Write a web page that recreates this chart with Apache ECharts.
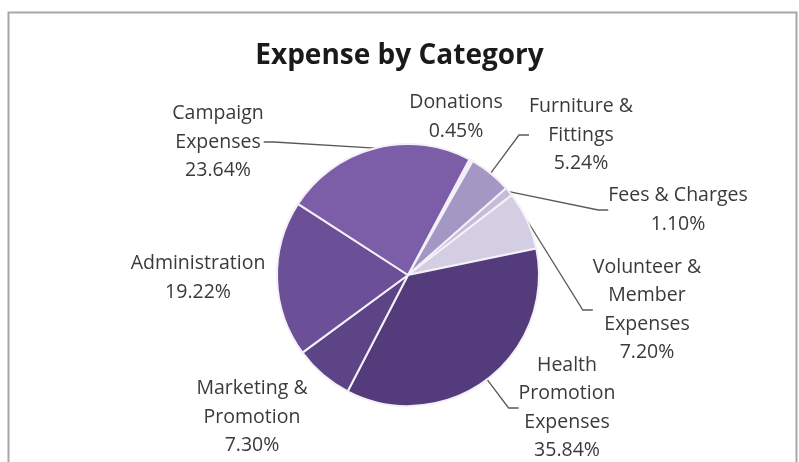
<!DOCTYPE html>
<html>
<head>
<meta charset="utf-8">
<script src="https://cdn.jsdelivr.net/npm/echarts@6/dist/echarts.min.js"></script>
<style>
  html, body { margin: 0; padding: 0; background: #fff; }
  #chart { width: 799px; height: 462px; }
</style>
</head>
<body>
<div id="chart"></div>
<script>
// Expense categories, in clockwise order starting just right of 12 o'clock
const categories = [
  'Donations',
  'Furniture &\nFittings',
  'Fees & Charges',
  'Volunteer &\nMember\nExpenses',
  'Health\nPromotion\nExpenses',
  'Marketing &\nPromotion',
  'Administration',
  'Campaign\nExpenses'
];
// Share of total expense, percent
const shares = [0.45, 5.24, 1.10, 7.20, 35.84, 7.30, 19.22, 23.64];

// Slice fills, one per category
const sliceColors = ['#eeebf4', '#a597c4', '#c6bcd9', '#d4cee2', '#533b7c', '#5c4487', '#6b5097', '#7b5ea7'];
// Which slices get a leader line
const showLeader = [false, true, true, true, true, false, false, true];
// Centre of each label block (px)
const labelSpots = [
  [456, 117], [581, 135], [678, 210], [647, 310],
  [567, 408], [252, 417], [198, 278], [218, 142]
];

const FONT = '"Open Sans", Lato, sans-serif';

const chart = echarts.init(document.getElementById('chart'), null, { renderer: 'canvas' });

chart.setOption({
  animation: false,
  backgroundColor: '#ffffff',
  title: {
    text: 'Expense by Category',
    left: 'center',
    top: 37,
    textStyle: { fontFamily: FONT, fontSize: 28, fontWeight: 'bold', color: '#1a1a1a' }
  },
  graphic: [{
    type: 'rect',
    shape: { x: 8.5, y: 12.5, width: 788, height: 470 },
    style: { fill: 'none', stroke: '#a8a8a8', lineWidth: 2 },
    silent: true,
    z: -1
  }],
  series: [{
    type: 'pie',
    center: [408, 275],
    radius: 131,
    startAngle: 62,
    clockwise: true,
    avoidLabelOverlap: false,
    itemStyle: { borderColor: '#f4f0f8', borderWidth: 2 },
    label: {
      show: true,
      position: 'outside',
      fontFamily: FONT,
      fontSize: 19.5,
      lineHeight: 28.5,
      color: '#3a3a3a',
      formatter: p => p.name + '\n' + shares[p.dataIndex].toFixed(2) + '%'
    },
    labelLine: {
      show: true,
      length: 10,
      length2: 10,
      lineStyle: { color: '#5a5a5a', width: 1.3 }
    },
    labelLayout: p => ({
      x: labelSpots[p.dataIndex][0],
      y: labelSpots[p.dataIndex][1],
      align: 'center',
      verticalAlign: 'middle'
    }),
    data: categories.map((name, i) => ({
      name: name,
      value: shares[i],
      itemStyle: { color: sliceColors[i] },
      labelLine: { show: showLeader[i] }
    }))
  }]
});
</script>
</body>
</html>
